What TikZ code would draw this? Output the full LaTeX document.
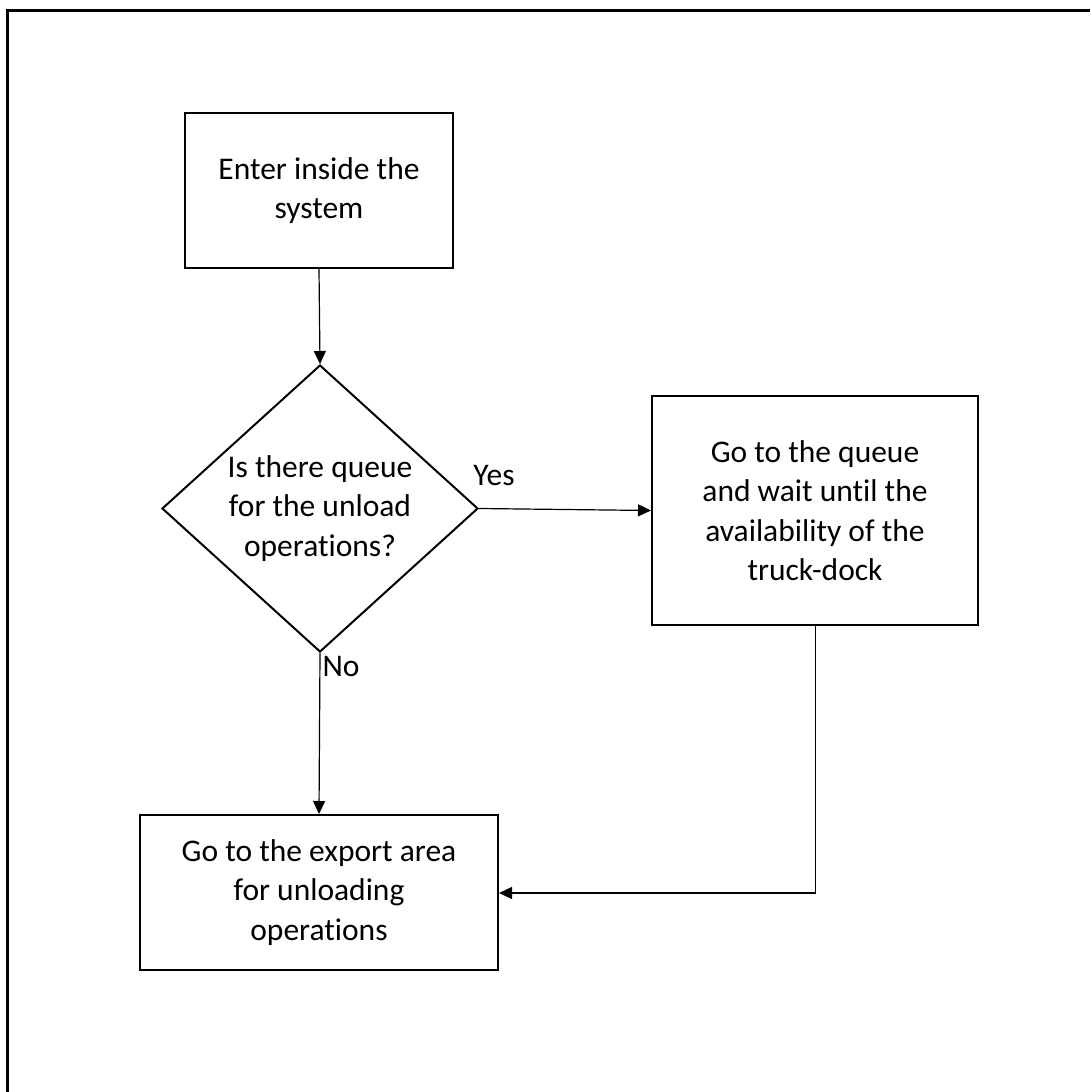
\documentclass[tikz,border=0pt]{standalone}
\usepackage{fontspec}
\setmainfont{Carlito}[Ligatures={NoCommon}]
\usetikzlibrary{arrows.meta,shapes.geometric}
\begin{document}
\begin{tikzpicture}[x=1pt,y=-1pt,
  every node/.style={font=\fontsize{31.5}{39.5}\selectfont},
  box/.style={draw,line width=2pt,inner sep=0pt,align=center},
  conn/.style={line width=1.2pt,-{Triangle[length=13pt,width=12pt]}},
  lbl/.style={inner sep=0pt}]
\useasboundingbox (0,0) rectangle (1090,1092);
\draw[line width=3pt] (7,1092) -- (7,10) -- (1090,10);
\node[box,minimum width=268pt,minimum height=155pt] (enter) at (319,190.5) {Enter inside the\\system};
\node[draw,line width=2pt,diamond,aspect=1.1,inner sep=0pt,minimum width=316pt,minimum height=287pt,align=center] (q) at (320,508.5) {Is there queue\\for the unload\\operations?};
\node[box,minimum width=326pt,minimum height=229pt] (wait) at (815,510.5) {Go to the queue\\and wait until the\\availability of the\\truck-dock};
\node[box,minimum width=358pt,minimum height=155pt] (export) at (319,892.5) {Go to the export area\\for unloading\\operations};
\coordinate (turn) at (815.5,893);
\draw[conn] (enter.south) -- (q.north);
\draw[conn] (q.east) -- (wait.west);
\draw[conn] (q.south) -- (export.north);
\draw[conn] (wait.south -| turn) -- (turn) -- (export.east |- turn);
\node[lbl] (yes) at (494,476) {Yes};
\node[lbl] (no) at (341,666) {No};
\end{tikzpicture}
\end{document}
